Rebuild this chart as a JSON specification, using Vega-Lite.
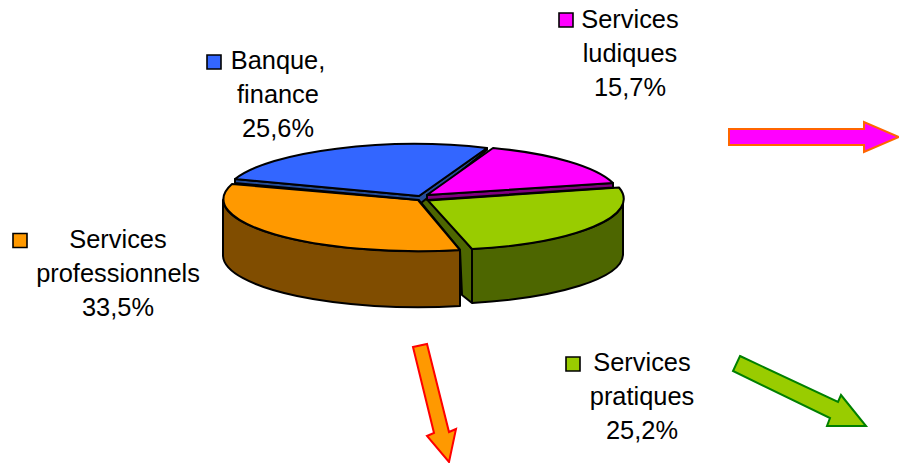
{"$schema":"https://vega.github.io/schema/vega-lite/v6.json","width":899,"height":463,"padding":0,"autosize":{"type":"none"},"background":"#ffffff","config":{"view":{"stroke":null}},"data":{"values":[{"category":"Services pratiques","share":25.2,"label":"Services\npratiques\n25,2%"},{"category":"Services professionnels","share":33.5,"label":"Services\nprofessionnels\n33,5%"},{"category":"Banque, finance","share":25.6,"label":"Banque,\nfinance\n25,6%"},{"category":"Services ludiques","share":15.7,"label":"Services\nludiques\n15,7%"}]},"resolve":{"scale":{"fill":"independent","shape":"independent","stroke":"independent"}},"layer":[{"transform":[{"filter":{"field":"category","oneOf":["Services pratiques","Services professionnels"]}}],"mark":{"type":"point","filled":true,"opacity":1,"size":4,"stroke":"#000000","strokeWidth":2,"strokeJoin":"round"},"encoding":{"fill":{"field":"category","type":"nominal","legend":null,"scale":{"domain":["Services pratiques","Services professionnels"],"range":["#4d6600","#804d00"]}},"shape":{"field":"category","type":"nominal","legend":null,"scale":{"domain":["Services pratiques","Services professionnels"],"range":["M173.5 -31.5 L173.5 23.5 A193 50 0 0 1 22.5 71.5 L22.5 17.5 A193 50 0 0 0 173.5 -31.5 Z M-36 -38 L-21.5 -34 L22.5 17.5 L22.5 71.5 L12.5 63.5 L10.5 18.5 Z","M-226.5 -31.5 L-226.5 24.5 A195 52 0 0 0 10.5 74.5 L10.5 18.5 A195 52 0 0 1 -226.5 -31.5 Z"]}}}},{"transform":[{"filter":{"field":"category","oneOf":["Services pratiques","Services professionnels"]}}],"mark":{"type":"point","filled":true,"opacity":1,"size":4,"stroke":"#000000","strokeWidth":2,"strokeJoin":"round"},"encoding":{"fill":{"field":"category","type":"nominal","legend":null,"scale":{"domain":["Services pratiques","Services professionnels"],"range":["#99cc00","#ff9900"]}},"shape":{"field":"category","type":"nominal","legend":null,"scale":{"domain":["Services pratiques","Services professionnels"],"range":["M-21.5 -31 L169.5 -44 A187 51 0 0 1 22.5 17.5 Z","M-31.5 -31.5 L10.5 18.5 A195 52 0 0 1 -217.5 -47.5 Z"]}}}},{"transform":[{"filter":{"field":"category","oneOf":["Banque, finance","Services ludiques"]}}],"mark":{"type":"point","filled":true,"opacity":1,"size":4,"stroke":"#000000","strokeWidth":2,"strokeJoin":"round"},"encoding":{"fill":{"field":"category","type":"nominal","legend":null,"scale":{"domain":["Banque, finance","Services ludiques"],"range":["#264d99","#800080"]}},"shape":{"field":"category","type":"nominal","legend":null,"scale":{"domain":["Banque, finance","Services ludiques"],"range":["M-214.5 -52.5 L-214.5 -48.5 L-30.5 -31.5 L-28.5 -28.5 L37.5 -81.5 L37.5 -83.5 L-30.5 -35.5 Z","M-22.5 -36.5 L163.5 -48.5 L163.5 -44 L-22.5 -31.5 Z"]}}}},{"transform":[{"filter":{"field":"category","oneOf":["Banque, finance","Services ludiques"]}}],"mark":{"type":"point","filled":true,"opacity":1,"size":4,"stroke":"#000000","strokeWidth":2,"strokeJoin":"round"},"encoding":{"fill":{"field":"category","type":"nominal","legend":null,"scale":{"domain":["Banque, finance","Services ludiques"],"range":["#3366ff","#ff00ff"]}},"shape":{"field":"category","type":"nominal","legend":null,"scale":{"domain":["Banque, finance","Services ludiques"],"range":["M-30.5 -35.5 L-214.5 -52.5 A190 52 0 0 1 37.5 -83.5 Z","M-22.5 -36.5 L43.5 -83.5 A190 52 0 0 1 163.5 -48.5 Z"]}}}},{"mark":{"type":"point","filled":true,"opacity":1,"size":4,"stroke":"#000000","strokeWidth":1.6},"encoding":{"fill":{"field":"category","type":"nominal","legend":null,"scale":{"domain":["Banque, finance","Services ludiques","Services professionnels","Services pratiques"],"range":["#3366ff","#ff00ff","#ff9900","#99cc00"]}},"shape":{"field":"category","type":"nominal","legend":null,"scale":{"domain":["Banque, finance","Services ludiques","Services professionnels","Services pratiques"],"range":["M-242.5 -176.5 L-228.5 -176.5 L-228.5 -162.5 L-242.5 -162.5 Z","M109.5 -218.5 L123.5 -218.5 L123.5 -204.5 L109.5 -204.5 Z","M-436.5 2 L-422.5 2 L-422.5 16 L-436.5 16 Z","M116.5 125.5 L130.5 125.5 L130.5 139.5 L116.5 139.5 Z"]}}}},{"transform":[{"filter":{"field":"category","oneOf":["Services ludiques","Services professionnels","Services pratiques"]}}],"mark":{"type":"point","filled":true,"opacity":1,"size":4,"strokeWidth":2,"strokeJoin":"miter"},"encoding":{"fill":{"field":"category","type":"nominal","legend":null,"scale":{"domain":["Services ludiques","Services professionnels","Services pratiques"],"range":["#ff00ff","#ff9900","#99cc00"]}},"stroke":{"field":"category","type":"nominal","legend":null,"scale":{"domain":["Services ludiques","Services professionnels","Services pratiques"],"range":["#ff6600","#ff0000","#008000"]}},"shape":{"field":"category","type":"nominal","legend":null,"scale":{"domain":["Services ludiques","Services professionnels","Services pratiques"],"range":["M279.5 -102.5 L414.5 -102.5 L414.5 -109.5 L449.5 -94.5 L414.5 -79.5 L414.5 -86.5 L279.5 -86.5 Z","M-36.5 115.5 L-22.5 112.5 L-0.5 200.5 L6.5 197.5 L-0.5 230.5 L-22.5 204.5 L-15.5 201.5 Z","M290.5 124.5 L388.5 170.5 L391.5 163.5 L416.5 194.5 L377.5 194.5 L380.5 186.5 L283.5 139.5 Z"]}}}},{"transform":[{"filter":{"field":"category","equal":"Banque, finance"}}],"mark":{"type":"text","font":"Liberation Sans","fontSize":25.4,"lineBreak":"\n","lineHeight":34,"align":"center","baseline":"middle","color":"#000000","dx":-171.5,"dy":-171},"encoding":{"text":{"field":"label","type":"nominal"}}},{"transform":[{"filter":{"field":"category","equal":"Services ludiques"}}],"mark":{"type":"text","font":"Liberation Sans","fontSize":25.4,"lineBreak":"\n","lineHeight":34,"align":"center","baseline":"middle","color":"#000000","dx":180.5,"dy":-212},"encoding":{"text":{"field":"label","type":"nominal"}}},{"transform":[{"filter":{"field":"category","equal":"Services professionnels"}}],"mark":{"type":"text","font":"Liberation Sans","fontSize":25.4,"lineBreak":"\n","lineHeight":34,"align":"center","baseline":"middle","color":"#000000","dx":-331.5,"dy":8},"encoding":{"text":{"field":"label","type":"nominal"}}},{"transform":[{"filter":{"field":"category","equal":"Services pratiques"}}],"mark":{"type":"text","font":"Liberation Sans","fontSize":25.4,"lineBreak":"\n","lineHeight":34,"align":"center","baseline":"middle","color":"#000000","dx":192.5,"dy":131},"encoding":{"text":{"field":"label","type":"nominal"}}}]}
